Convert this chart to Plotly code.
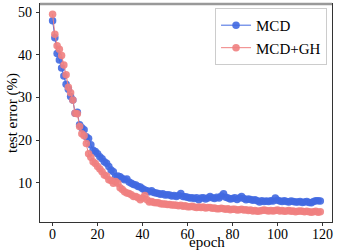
import plotly.graph_objects as go

epochs = list(range(120))

mcd = [48.0, 44.0, 40.3, 38.8, 36.9, 35.0, 33.1, 31.9, 30.2, 29.4,
       26.3, 26.5, 23.6, 22.9, 22.4, 20.8, 20.4, 18.9, 17.6, 17.3,
       16.8, 16.1, 15.6, 14.9, 14.6, 13.8, 13.0, 12.6, 11.4, 11.6,
       11.4, 11.0, 10.7, 10.9, 10.2, 9.9, 9.6, 9.5, 9.1, 9.0,
       8.6, 8.3, 8.1, 7.9, 8.1, 7.7, 7.6, 7.5, 7.3, 7.4,
       7.1, 7.2, 7.1, 6.9, 7.0, 6.8, 7.0, 7.5, 6.8, 6.7,
       6.6, 6.4, 6.5, 6.3, 6.5, 6.0, 6.4, 6.5, 6.2, 6.4,
       6.8, 6.5, 6.3, 6.6, 6.4, 6.9, 7.4, 6.6, 6.4, 6.2,
       6.3, 6.5, 6.1, 6.4, 6.8, 6.3, 6.0, 6.2, 6.1, 5.9,
       6.0, 5.8, 5.5, 5.8, 5.6, 5.7, 5.6, 5.8, 5.7, 6.4,
       5.9, 5.7, 5.6, 5.8, 5.6, 5.5, 5.7, 5.6, 5.5, 5.5,
       5.6, 5.4, 5.5, 5.6, 5.4, 5.3, 5.6, 5.8, 5.8, 5.7]

mcd_gh = [49.5, 44.8, 42.1, 41.3, 39.8, 37.6, 35.3, 32.4, 31.1, 29.4,
          26.3, 26.2, 23.2, 21.5, 21.0, 19.2, 16.8, 16.0, 14.9, 14.5,
          13.8, 13.2, 12.6, 11.8, 11.6, 10.7, 10.5, 9.9, 10.3, 9.9,
          8.8, 8.4, 7.9, 7.6, 7.5, 7.2, 6.8, 6.8, 6.5, 6.0,
          6.4, 7.0, 6.0, 5.5, 5.6, 5.4, 5.3, 5.3, 5.1, 5.0,
          5.0, 4.9, 4.9, 4.8, 4.8, 4.7, 4.6, 4.7, 4.5, 4.6,
          4.4, 4.4, 4.5, 4.3, 4.2, 4.3, 4.2, 4.3, 4.1, 4.2,
          4.2, 4.0, 4.1, 3.9, 3.9, 4.0, 3.9, 3.8, 3.9, 3.7,
          3.8, 3.8, 3.6, 3.7, 3.8, 3.6, 3.7, 3.5, 3.6, 3.4,
          3.5, 3.3, 3.4, 3.5, 3.6, 3.5, 3.4, 3.5, 3.4, 3.5,
          3.6, 3.4, 3.5, 3.3, 3.4, 3.5, 3.3, 3.4, 3.2, 3.3,
          3.4, 3.3, 3.2, 3.3, 3.2, 3.1, 3.2, 3.3, 3.1, 3.2]

x_ticks = [0, 20, 40, 60, 80, 100, 120]
y_ticks = [10, 20, 30, 40, 50]

FONT = "Liberation Serif, Times New Roman, serif"

fig = go.Figure()
fig.add_trace(go.Scatter(x=epochs, y=mcd, mode="lines+markers", name="MCD",
                         line=dict(color="#4169E1", width=1),
                         marker=dict(color="#4169E1", size=7.5, opacity=0.9)))
fig.add_trace(go.Scatter(x=epochs, y=mcd_gh, mode="lines+markers", name="MCD+GH",
                         line=dict(color="#F08080", width=1),
                         marker=dict(color="#F08080", size=7.5, opacity=0.9)))

fig.update_layout(
    width=340, height=252,
    margin=dict(l=40, r=8, t=4, b=30),
    paper_bgcolor="white", plot_bgcolor="white",
    font=dict(family=FONT, size=14, color="black"),
    showlegend=True,
    legend=dict(x=0.983, y=0.982, xanchor="right", yanchor="top",
                bgcolor="rgba(255,255,255,0.8)", bordercolor="#cccccc", borderwidth=1,
                font=dict(family=FONT, size=15), tracegroupgap=0, itemwidth=30),
    xaxis=dict(range=[-5.6, 124.2], tickvals=x_ticks, showgrid=False, zeroline=False,
               showline=True, linecolor="#333333", linewidth=1.2, mirror=True,
               ticks="outside", ticklen=3, tickcolor="#333333", ticklabelstandoff=-4,
               tickfont=dict(family=FONT, size=14)),
    yaxis=dict(range=[0.8, 51.9], tickvals=y_ticks, showgrid=False, zeroline=False,
               showline=True, linecolor="#333333", linewidth=1.2, mirror=True,
               ticks="outside", ticklen=3, tickcolor="#333333", ticklabelstandoff=1,
               tickfont=dict(family=FONT, size=14)),
    annotations=[
        dict(text="epoch", xref="paper", yref="paper", x=0.572, y=-0.092,
             xanchor="center", yanchor="middle", showarrow=False,
             font=dict(family=FONT, size=15)),
        dict(text="test error (%)", xref="paper", yref="paper", x=-0.096, y=0.5,
             xanchor="center", yanchor="middle", textangle=-90, showarrow=False,
             font=dict(family=FONT, size=15)),
    ],
    shapes=[dict(type="line", xref="paper", yref="paper", x0=0, x1=1, y0=1, y1=1,
                 line=dict(color="#999999", width=2.5))],
)

fig.write_html("out.html", config={"displayModeBar": False},
               post_script="document.body.style.margin='0';document.body.style.overflow='hidden';")
